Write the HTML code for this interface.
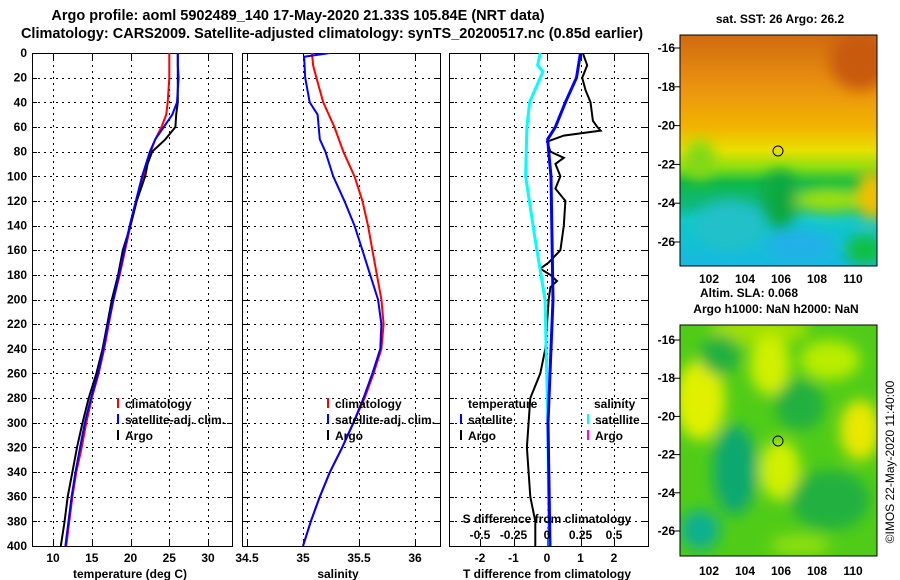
<!DOCTYPE html>
<html><head><meta charset="utf-8"><style>
body{margin:0;background:#fff;width:900px;height:580px;overflow:hidden}
svg{display:block;font-family:"Liberation Sans",sans-serif;font-weight:bold}
</style></head><body>
<svg id="c" width="900" height="580">
<defs>
<linearGradient id="sstg" x1="0" y1="0" x2="0" y2="1">
<stop offset="0" stop-color="#d06a10"/><stop offset="0.22" stop-color="#ea9210"/><stop offset="0.4" stop-color="#f2b400"/><stop offset="0.5" stop-color="#e8e000"/><stop offset="0.57" stop-color="#90e010"/><stop offset="0.64" stop-color="#10b848"/><stop offset="0.74" stop-color="#10b880"/><stop offset="0.8" stop-color="#10c8c8"/><stop offset="1" stop-color="#18b8e0"/>
</linearGradient>
<filter id="bl"><feGaussianBlur stdDeviation="7"/></filter>
<clipPath id="m1"><rect x="680" y="35" width="197" height="231"/></clipPath>
<clipPath id="m2"><rect x="680" y="325" width="197" height="231"/></clipPath>
<clipPath id="p1"><rect x="32" y="53" width="200" height="493"/></clipPath>
<clipPath id="p2"><rect x="242" y="53" width="198" height="493"/></clipPath>
<clipPath id="p3"><rect x="449" y="53" width="199" height="493"/></clipPath>
</defs>
<text x="298" y="20" font-size="14.5" text-anchor="middle">Argo profile: aoml 5902489_140 17-May-2020 21.33S 105.84E (NRT data)</text>
<text x="332" y="38" font-size="14.5" text-anchor="middle">Climatology: CARS2009. Satellite-adjusted climatology: synTS_20200517.nc (0.85d earlier)</text>
<g id="g"></g>
<g clip-path="url(#m1)">
<rect x="680" y="35" width="197" height="231" fill="url(#sstg)"/>
<g filter="url(#bl)">
<ellipse cx="860" cy="60" rx="30" ry="30" fill="#c85a08"/>
<ellipse cx="700" cy="160" rx="15" ry="20" fill="#80d818"/>
<ellipse cx="780" cy="200" rx="18" ry="30" fill="#10a840"/>
<ellipse cx="830" cy="200" rx="35" ry="12" fill="#a0e010"/>
<ellipse cx="872" cy="195" rx="15" ry="25" fill="#f0c000"/>
<ellipse cx="730" cy="225" rx="35" ry="25" fill="#20c0c8"/>
<ellipse cx="800" cy="245" rx="35" ry="15" fill="#20b0e8"/>
<ellipse cx="865" cy="250" rx="20" ry="15" fill="#10c040"/>
</g></g>
<rect x="680" y="35" width="197" height="231" fill="none" stroke="#000"/>
<circle cx="778" cy="151" r="5" fill="none" stroke="#000"/>
<g clip-path="url(#m2)">
<rect x="680" y="325" width="197" height="231" fill="#50cc18"/>
<g filter="url(#bl)">
<ellipse cx="700" cy="400" rx="25" ry="40" fill="#e0f000"/>
<ellipse cx="760" cy="330" rx="50" ry="15" fill="#a0e000"/>
<ellipse cx="720" cy="355" rx="20" ry="20" fill="#20b040"/>
<ellipse cx="770" cy="365" rx="20" ry="30" fill="#d0f000"/>
<ellipse cx="830" cy="360" rx="30" ry="20" fill="#b8ec00"/>
<ellipse cx="800" cy="405" rx="25" ry="25" fill="#20b040"/>
<ellipse cx="860" cy="430" rx="20" ry="30" fill="#e8e800"/>
<ellipse cx="735" cy="470" rx="22" ry="45" fill="#10a870"/>
<ellipse cx="700" cy="530" rx="20" ry="20" fill="#10b090"/>
<ellipse cx="780" cy="470" rx="20" ry="30" fill="#d0f000"/>
<ellipse cx="830" cy="500" rx="40" ry="30" fill="#20b040"/>
<ellipse cx="800" cy="545" rx="30" ry="10" fill="#90e010"/>
</g></g>
<rect x="680" y="325" width="197" height="231" fill="none" stroke="#000"/>
<circle cx="778" cy="441" r="5" fill="none" stroke="#000"/>
<text x="780" y="23" font-size="12" text-anchor="middle">sat. SST: 26 Argo: 26.2</text>
<text x="749" y="297" font-size="12" text-anchor="middle">Altim. SLA: 0.068</text>
<text x="776" y="313" font-size="12" text-anchor="middle">Argo h1000: NaN h2000: NaN</text>
<text transform="translate(894,462) rotate(-90)" font-size="12" font-weight="normal" text-anchor="middle">©IMOS 22-May-2020 11:40:00</text>
</svg>
<script>
// ---- data ----
const tClimDepth=[0,10,20,30,40,50,60,70,80,90,100,120,140,160,180,200,220,240,260,280,300,320,340,360,380,400];
const tClim=[25,25,25,24.9,24.8,24.6,24.0,23.2,22.6,22.1,21.7,20.8,20.0,19.3,18.6,17.8,17.2,16.6,15.9,15.0,14.3,13.7,13.0,12.5,12.1,11.7];
const tSat=[26.1,26.1,26.2,26.1,26.0,25.4,24.3,23.2,22.5,22.0,21.5,20.7,19.9,19.2,18.5,17.8,17.1,16.5,15.8,14.9,14.1,13.5,12.9,12.4,12.0,11.6];
const tArgo=[26.1,26.1,26.1,26.1,26.1,25.9,25.8,24.5,22.8,22.2,21.9,20.8,20.0,19.0,18.4,17.6,17.0,16.4,15.6,14.6,13.8,13.1,12.5,11.9,11.5,11.0];
const sClimDepth=[0,10,20,40,60,80,100,120,140,160,180,200,220,240,260,280,300,320,340,360,380,400];
const sClim=[35.08,35.09,35.12,35.18,35.28,35.36,35.46,35.53,35.58,35.62,35.66,35.70,35.72,35.70,35.63,35.55,35.45,35.35,35.24,35.15,35.07,35.0];
const sSatDepth=[0,3,20,40,50,70,80,100,120,140,160,180,200,220,240,260,280,300,320,340,360,380,400];
const sSat=[35.24,35.01,35.02,35.06,35.13,35.15,35.2,35.27,35.37,35.46,35.53,35.6,35.67,35.70,35.69,35.62,35.54,35.45,35.35,35.24,35.15,35.07,35.0];
const dTArgoDepth=[0,10,20,30,40,55,60,63,67,72,80,85,90,100,110,120,140,160,170,175,180,185,190,200,220,240,260,280,300,320,340,360,380,400];
const dTArgo=[1.07,1.2,1.05,1.15,1.3,1.37,1.5,1.6,0.5,0.0,0.1,0.5,0.25,0.4,0.25,0.55,0.5,0.4,0.05,-0.2,0.1,0.3,0.1,0.05,0.0,-0.05,-0.2,-0.5,-0.55,-0.6,-0.55,-0.5,-0.35,-0.35];
const dTSatDepth=[0,20,40,60,70,80,100,200,300,400];
const dTSat=[1.0,0.88,0.55,0.25,0.02,0.05,0.12,0.18,0.03,0.09];
const dSSatDepth=[0,10,15,40,60,100,150,200,300,400];
const dSSat=[-0.05,-0.07,-0.03,-0.13,-0.15,-0.16,-0.09,-0.015,0.007,0.015];
const tTicks=[10,15,20,25,30], sTicks=[34.5,35,35.5,36], dTicks=[-2,-1,0,1,2], dsTicks=[-0.5,-0.25,0,0.25,0.5];
const depthTicks=[0,20,40,60,80,100,120,140,160,180,200,220,240,260,280,300,320,340,360,380,400];
const mapLon=[102,104,106,108,110], mapLat=[-16,-18,-20,-22,-24,-26];
// ---- axes ----
const Y=d=>53+d*493/400;
const XT=t=>53+(t-10)*7.75;
const XS=s=>303+(s-35)*112;
const XD=t=>547+t*33.5;
const XDS=s=>547+s*134;
const LX=l=>709+(l-102)*18;
const LY1=l=>48+(-16-l)*19.4;
const LY2=l=>340+(-16-l)*19.1;
const R=v=>Math.round(v)+0.5;
const NS='http://www.w3.org/2000/svg';
const G=document.getElementById('g');
function mk(tag,at,par){const e=document.createElementNS(NS,tag);for(const k in at)e.setAttribute(k,at[k]);(par||G).appendChild(e);return e;}
function txt(x,y,s,anchor,size,par){const e=mk('text',{x:x,y:y,'font-size':size||12,'text-anchor':anchor||'middle'},par);e.textContent=s;return e;}
const panels=[{x0:32,x1:232,X:XT,ticks:tTicks,clip:'p1',name:'temperature'},{x0:242,x1:440,X:XS,ticks:sTicks,clip:'p2',name:'salinity'},{x0:449,x1:648,X:XD,ticks:dTicks,clip:'p3',name:'difference'}];
panels.forEach((p,i)=>{
  const g=mk('g',{'shape-rendering':'crispEdges'});
  
  
  depthTicks.forEach(d=>{const y=R(Y(d)); if(d>0&&d<400){const l=mk('line',{x1:p.x0,x2:p.x1,y1:y,y2:y,stroke:'#000','stroke-width':1,'stroke-dasharray':'2,4'},g);}
    mk('line',{x1:p.x0,x2:p.x0+5,y1:y,y2:y,stroke:'#000'},g);mk('line',{x1:p.x1-5,x2:p.x1,y1:y,y2:y,stroke:'#000'},g);});
  p.ticks.forEach(t=>{const x=R(p.X(t));const l=mk('line',{x1:x,x2:x,y1:53,y2:546,stroke:'#000','stroke-width':1,'stroke-dasharray':'2,4'},g);
    mk('line',{x1:x,x2:x,y1:546,y2:540,stroke:'#000'},g);mk('line',{x1:x,x2:x,y1:53,y2:59,stroke:'#000'},g);
    const tl=txt(p.X(t),562,String(t),'middle',12,g);});
  const fr=mk('rect',{x:p.x0+0.5,y:53.5,width:p.x1-p.x0,height:493,fill:'none',stroke:'#000'},g);
  
});
depthTicks.forEach(d=>{const t=txt(27,Y(d)+4,String(d),'end',12);});
function line(X,depths,vals,color,clip,name,w){
  const pts=depths.map((d,i)=>X(vals[i]).toFixed(1)+','+Y(d).toFixed(1)).join(' ');
  const e=mk('polyline',{points:pts,fill:'none',stroke:color,'stroke-width':w||2,'clip-path':'url(#'+clip+')'});
  
}
line(XT,tClimDepth,tClim,'#f00','p1','temp-climatology-line');
line(XT,tClimDepth,tArgo,'#000','p1','temp-argo-line');
line(XT,tClimDepth,tSat,'#00f','p1','temp-satellite-line');
line(XS,sClimDepth,sClim,'#f00','p2','sal-climatology-line');
line(XS,sSatDepth,sSat,'#00f','p2','sal-satellite-line');
line(XD,dTArgoDepth,dTArgo,'#000','p3','tdiff-argo-line');
line(XDS,dSSatDepth,dSSat,'#0ff','p3','sdiff-satellite-line',3);
line(XD,dTSatDepth,dTSat,'#00f','p3','tdiff-satellite-line',3);
[[130,578,'temperature (deg C)','temp-axis-title'],[338,578,'salinity','sal-axis-title'],[547,578,'T difference from climatology','tdiff-axis-title'],[547,523,'S difference from climatology','sdiff-axis-title']].forEach(a=>{const t=txt(a[0],a[1],a[2]);});
dsTicks.forEach(s=>{const t=txt(XDS(s),539,String(s));});
function leg(x,y,color,label){const g=mk('g',{});
  if(color)mk('rect',{x:x,y:y-10,width:2,height:10,fill:color},g);txt(x+(color?8:0),y,label,'start',12,g);}
leg(117,408,'#f00','climatology');leg(117,424,'#00f','satellite-adj. clim.');leg(117,440,'#000','Argo');
leg(327,408,'#f00','climatology');leg(327,424,'#00f','satellite-adj. clim.');leg(327,440,'#000','Argo');
leg(468,408,null,'temperature');leg(460,424,'#00f','satellite');leg(460,440,'#000','Argo');
leg(594,408,null,'salinity');leg(587,424,'#0ff','satellite');leg(587,440,'#f0f','Argo');
mapLon.forEach(l=>{const x=LX(l);
  [[35,266],[325,556]].forEach(r=>{mk('line',{x1:x,x2:x,y1:r[0],y2:r[0]+4,stroke:'#000'});mk('line',{x1:x,x2:x,y1:r[1],y2:r[1]-4,stroke:'#000'});});
  [283,575].forEach(y=>{const t=txt(x,y,String(l));});});
mapLat.forEach(l=>{[LY1(l),LY2(l)].forEach(y=>{mk('line',{x1:673,x2:680,y1:y,y2:y,stroke:'#000'});mk('line',{x1:877,x2:873,y1:y,y2:y,stroke:'#000'});
  const t=txt(675,y+4,String(l),'end',12);});});
</script>
</body></html>
